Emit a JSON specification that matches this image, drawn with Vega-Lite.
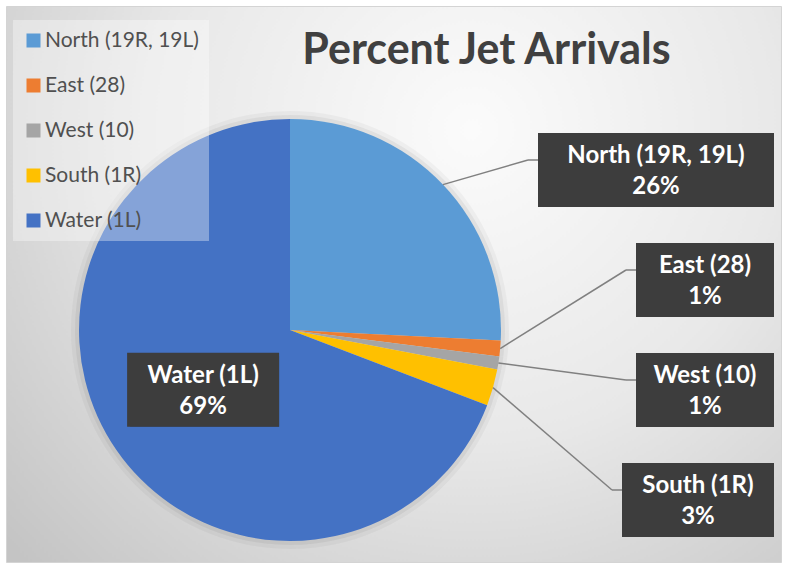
{
  "$schema": "https://vega.github.io/schema/vega-lite/v6.json",
  "width": 775,
  "height": 556,
  "autosize": {"type": "none"},
  "padding": {"left": 6, "top": 6, "right": 4, "bottom": 3},
  "background": "#ffffff",
  "config": {
    "font": "Lato",
    "view": {
      "stroke": "#d4d4d4",
      "strokeWidth": 1,
      "fill": {
        "gradient": "radial",
        "x1": 0.6, "y1": 0.3, "r1": 0,
        "x2": 0.6, "y2": 0.3, "r2": 0.8,
        "stops": [
          {"offset": 0, "color": "#fbfbfb"},
          {"offset": 0.5, "color": "#e8e8e8"},
          {"offset": 1, "color": "#c4c4c4"}
        ]
      }
    }
  },
  "title": {
    "text": "Percent Jet Arrivals",
    "anchor": "middle",
    "frame": "group",
    "dx": 93,
    "dy": 41,
    "offset": -60,
    "fontSize": 43,
    "font": "Lato",
    "fontWeight": "bold",
    "color": "#404040",
    "baseline": "alphabetic"
  },
  "data": {
    "values": [
      {"Direction": "North (19R, 19L)", "share": 0.258},
      {"Direction": "East (28)", "share": 0.012},
      {"Direction": "West (10)", "share": 0.010},
      {"Direction": "South (1R)", "share": 0.028},
      {"Direction": "Water (1L)", "share": 0.692}
    ]
  },
  "transform": [
    {"window": [{"op": "row_number", "as": "idx"}, {"op": "sum", "field": "share", "as": "cum"}]},
    {"joinaggregate": [{"op": "sum", "field": "share", "as": "total"}]},
    {"calculate": "2 * PI * (datum.cum - datum.share / 2) / datum.total", "as": "mid"},
    {"calculate": "211 * sin(datum.mid)", "as": "ex"},
    {"calculate": "-211 * cos(datum.mid)", "as": "ey"},
    {"calculate": "datum.share > 0.5", "as": "inside"},
    {"calculate": "14 * length(datum.Direction) + 12", "as": "w"},
    {"calculate": "datum.inside ? 0.5 * datum.ey : -160 + 110 * (datum.idx - 1)", "as": "by"},
    {"calculate": "datum.inside ? 0.5 * datum.ex : 484 - datum.w / 2", "as": "bx"},
    {"calculate": "datum.bx - datum.w / 2", "as": "x1"},
    {"calculate": "datum.bx + datum.w / 2", "as": "x2"},
    {"calculate": "datum.by - 37", "as": "y1"},
    {"calculate": "datum.by + 37", "as": "y2"},
    {"calculate": "datum.by - 10", "as": "ly"},
    {"calculate": "datum.x1 - 10", "as": "lx"},
    {"calculate": "[datum.Direction, format(datum.share, '.0%')]", "as": "label"}
  ],
  "layer": [
    {
      "mark": {"type": "arc", "outerRadius": 219, "fill": "#000000", "opacity": 0.035},
      "encoding": {
        "x": {"datum": 0, "type": "quantitative", "axis": null,
              "scale": {"domain": [-284, 491], "range": [0, 775], "nice": false, "zero": false}},
        "y": {"datum": 0, "type": "quantitative", "axis": null,
              "scale": {"domain": [-324, 232], "range": [0, 556], "nice": false, "zero": false}},
        "theta": {"field": "share", "type": "quantitative", "stack": true},
        "order": {"field": "idx", "type": "quantitative"}
      }
    },
    {
      "mark": {"type": "arc", "outerRadius": 215, "fill": "#000000", "opacity": 0.05},
      "encoding": {
        "x": {"datum": 0, "type": "quantitative", "axis": null},
        "y": {"datum": 0, "type": "quantitative", "axis": null},
        "theta": {"field": "share", "type": "quantitative", "stack": true},
        "order": {"field": "idx", "type": "quantitative"}
      }
    },
    {
      "mark": {"type": "arc", "outerRadius": 211},
      "encoding": {
        "x": {"datum": 0, "type": "quantitative", "axis": null},
        "y": {"datum": 0, "type": "quantitative", "axis": null},
        "theta": {"field": "share", "type": "quantitative", "stack": true},
        "order": {"field": "idx", "type": "quantitative"},
        "color": {
          "field": "Direction", "type": "nominal",
          "scale": {
            "domain": ["North (19R, 19L)", "East (28)", "West (10)", "South (1R)", "Water (1L)"],
            "range": ["#5B9BD5", "#ED7D31", "#A5A5A5", "#FFC000", "#4472C4"]
          },
          "legend": {
            "title": null,
            "orient": "none",
            "legendX": 7,
            "legendY": 14,
            "fillColor": "rgba(255,255,255,0.35)",
            "padding": 10,
            "rowPadding": 23,
            "symbolType": "square",
            "symbolSize": 196,
            "symbolStrokeWidth": 0,
            "symbolOpacity": 1,
            "labelFontSize": 21,
            "labelFont": "Lato",
            "labelColor": "#505050",
            "labelOffset": 1,
            "labelLimit": 300
          }
        }
      }
    },
    {
      "transform": [{"filter": "!datum.inside"}],
      "mark": {"type": "rule", "color": "#808080", "strokeWidth": 1.5},
      "encoding": {
        "x": {"field": "ex", "type": "quantitative", "axis": null},
        "y": {"field": "ey", "type": "quantitative", "axis": null},
        "x2": {"field": "lx"},
        "y2": {"field": "ly"}
      }
    },
    {
      "transform": [{"filter": "!datum.inside"}],
      "mark": {"type": "rule", "color": "#808080", "strokeWidth": 1.5},
      "encoding": {
        "x": {"field": "lx", "type": "quantitative", "axis": null},
        "y": {"field": "ly", "type": "quantitative", "axis": null},
        "x2": {"field": "x1"},
        "y2": {"field": "ly"}
      }
    },
    {
      "mark": {"type": "rect", "fill": "#000000", "opacity": 0.28, "xOffset": 3, "yOffset": 3},
      "encoding": {
        "x": {"field": "x1", "type": "quantitative", "axis": null},
        "x2": {"field": "x2"},
        "y": {"field": "y1", "type": "quantitative", "axis": null},
        "y2": {"field": "y2"}
      }
    },
    {
      "mark": {"type": "rect", "fill": "#3d3d3d"},
      "encoding": {
        "x": {"field": "x1", "type": "quantitative", "axis": null},
        "x2": {"field": "x2"},
        "y": {"field": "y1", "type": "quantitative", "axis": null},
        "y2": {"field": "y2"}
      }
    },
    {
      "mark": {"type": "text", "color": "#ffffff", "font": "Lato", "fontWeight": "bold", "fontSize": 24, "lineHeight": 31, "baseline": "middle", "align": "center", "dy": -14},
      "encoding": {
        "x": {"field": "bx", "type": "quantitative", "axis": null},
        "y": {"field": "by", "type": "quantitative", "axis": null},
        "text": {"field": "label"}
      }
    }
  ]
}
